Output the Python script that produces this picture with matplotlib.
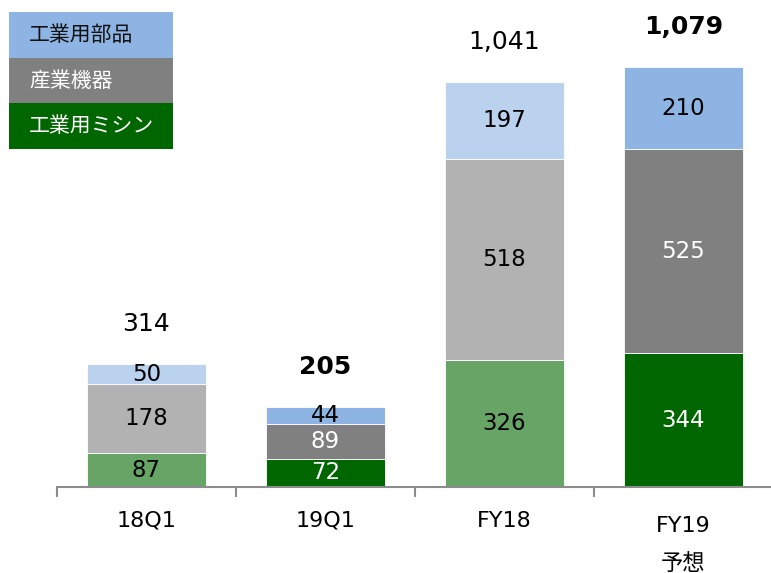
import matplotlib.pyplot as plt
import matplotlib.transforms as mtransforms
import numpy as np
from matplotlib.patches import Rectangle

plt.rcParams['font.family'] = ['DejaVu Sans', 'Noto Sans CJK JP']

categories = ['18Q1', '19Q1', 'FY18', 'FY19\n予想']
sewing = [87, 72, 326, 344]      # 工業用ミシン
machines = [178, 89, 518, 525]   # 産業機器
parts = [50, 44, 197, 210]       # 工業用部品
totals = [314, 205, 1041, 1079]
bold_total = [False, True, False, True]

# light shades for prior period, dark for current
green_c = ['#66A566', '#006600', '#66A566', '#006600']
grey_c = ['#B2B2B2', '#808080', '#B2B2B2', '#808080']
blue_c = ['#BBD2EE', '#8EB4E3', '#BBD2EE', '#8EB4E3']
grey_txt = ['black', 'white', 'black', 'white']
green_txt = ['black', 'white', 'black', 'white']

fig = plt.figure(figsize=(7.71, 5.73), dpi=100)
ax = fig.add_axes([57 / 771, 86 / 573, 714 / 771, 487 / 573])

x = np.arange(len(categories))
w = 0.665
sewing = np.array(sewing)
machines = np.array(machines)
parts = np.array(parts)

ax.bar(x, sewing, w, color=green_c, edgecolor='white', linewidth=0.6)
ax.bar(x, machines, w, bottom=sewing, color=grey_c, edgecolor='white', linewidth=0.6)
ax.bar(x, parts, w, bottom=sewing + machines, color=blue_c, edgecolor='white', linewidth=0.6)

fs = 16.5
for i in range(len(x)):
    ax.text(x[i], sewing[i] / 2, str(sewing[i]), ha='center', va='center',
            fontsize=fs, color=green_txt[i])
    ax.text(x[i], sewing[i] + machines[i] / 2, str(machines[i]), ha='center', va='center',
            fontsize=fs, color=grey_txt[i])
    ax.text(x[i], sewing[i] + machines[i] + parts[i] / 2, str(parts[i]), ha='center',
            va='center', fontsize=fs, color='black')
    ax.annotate(f'{totals[i]:,}', (x[i], sewing[i] + machines[i] + parts[i]),
                xytext=(0, 29), textcoords='offset points', ha='center', va='center',
                fontsize=18, fontweight='bold' if bold_total[i] else 'normal')

ax.set_xlim(-0.5, 3.49)
ax.set_ylim(0, 1252)
for s in ['top', 'right', 'left']:
    ax.spines[s].set_visible(False)
ax.spines['bottom'].set_color('#8C8C8C')
ax.spines['bottom'].set_linewidth(1.5)
ax.set_yticks([])

ax.set_xticks(x)
ax.set_xticklabels(categories, fontsize=16, linespacing=2.05)
ax.tick_params(axis='x', which='major', length=0, pad=17)
ax.set_xticks(np.arange(-0.5, 3.5, 1), minor=True)
ax.tick_params(axis='x', which='minor', length=7, width=1.5, color='#8C8C8C')
# the two-line label sits a little lower
lbl = ax.get_xticklabels()[3]
lbl.set_transform(lbl.get_transform() +
                  mtransforms.ScaledTranslation(0, -5 / 100, fig.dpi_scale_trans))

# legend boxes with text inside
leg = [('工業用部品', '#8EB4E3', '#111111'),
       ('産業機器', '#808080', 'white'),
       ('工業用ミシン', '#006600', 'white')]
for k, (lab, col, tc) in enumerate(leg):
    top = 12 + 45.7 * k
    fig.patches.append(Rectangle((9 / 771, 1 - (top + 45.7) / 573), 164 / 771, 45.7 / 573,
                                 transform=fig.transFigure, facecolor=col, edgecolor='none'))
    fig.text(29 / 771, 1 - (top + 23) / 573, lab, color=tc, fontsize=15, va='center',
             ha='left', family=['Noto Sans CJK JP', 'DejaVu Sans'])

fig.savefig('out.png', dpi=100)
